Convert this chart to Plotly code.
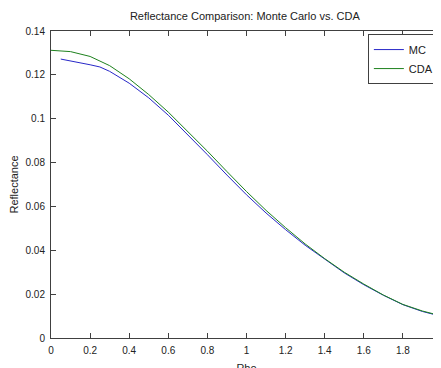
import plotly.graph_objects as go

# Data
rho_cda = [0.0, 0.1, 0.2, 0.3, 0.4, 0.5, 0.6, 0.7, 0.8, 0.9, 1.0,
           1.1, 1.2, 1.3, 1.4, 1.5, 1.6, 1.7, 1.8, 1.9, 2.0]
refl_cda = [0.1312, 0.1306, 0.1284, 0.1242, 0.1182, 0.1110, 0.1030, 0.0943,
            0.0852, 0.0759, 0.0668, 0.0582, 0.0503, 0.0429, 0.0362, 0.0300,
            0.0246, 0.0196, 0.0153, 0.0123, 0.0100]

rho_mc = [0.05, 0.1, 0.2, 0.25, 0.3, 0.4, 0.5, 0.6, 0.7, 0.8, 0.9, 1.0,
          1.1, 1.2, 1.3, 1.4, 1.5, 1.6, 1.7, 1.8, 1.9, 2.0]
refl_mc = [0.1272, 0.1264, 0.1246, 0.1236, 0.1216, 0.1162, 0.1095, 0.1016,
           0.0928, 0.0836, 0.0743, 0.0653, 0.0570, 0.0494, 0.0423, 0.0358,
           0.0297, 0.0243, 0.0195, 0.0152, 0.0121, 0.0098]

x_ticks = [0, 0.2, 0.4, 0.6, 0.8, 1, 1.2, 1.4, 1.6, 1.8, 2]
x_labels = ["0", "0.2", "0.4", "0.6", "0.8", "1", "1.2", "1.4", "1.6", "1.8", "2"]
y_ticks = [0, 0.02, 0.04, 0.06, 0.08, 0.1, 0.12, 0.14]
y_labels = ["0", "0.02", "0.04", "0.06", "0.08", "0.1", "0.12", "0.14"]

FONT = "Liberation Sans, Arial, sans-serif"

fig = go.Figure()
fig.add_trace(go.Scatter(x=rho_mc, y=refl_mc, mode="lines", name="MC",
                         line=dict(color="rgb(40,40,200)", width=1)))
fig.add_trace(go.Scatter(x=rho_cda, y=refl_cda, mode="lines", name="CDA",
                         line=dict(color="rgb(30,130,30)", width=1)))

axis_common = dict(
    showgrid=False, zeroline=False, showline=True, linecolor="#404040",
    linewidth=1, mirror="ticks", ticks="inside", ticklen=5,
    tickcolor="#404040", tickfont=dict(family=FONT, size=10, color="#222"),
    ticklabelstandoff=3,
)

# The page body adds an 8px offset, so margins are reduced accordingly
fig.update_layout(
    width=441, height=368,
    margin=dict(l=43, r=7, t=23, b=38, autoexpand=False),
    paper_bgcolor="white", plot_bgcolor="white",
    title=dict(text="Reflectance Comparison: Monte Carlo vs. CDA",
               x=0.537, xanchor="center", y=0.978, yanchor="middle",
               font=dict(family=FONT, size=11, color="#222")),
    xaxis=dict(range=[0, 2.0], tickvals=x_ticks, ticktext=x_labels,
               title=dict(text="Rho", standoff=9,
                          font=dict(family=FONT, size=11, color="#222")),
               automargin=False, **axis_common),
    yaxis=dict(range=[0, 0.14], tickvals=y_ticks, ticktext=y_labels,
               title=dict(text="Reflectance", standoff=6,
                          font=dict(family=FONT, size=11, color="#222")),
               automargin=False, **axis_common),
    legend=dict(x=0.992, y=0.99, xanchor="right", yanchor="top",
                bgcolor="white", bordercolor="#404040", borderwidth=1,
                font=dict(family=FONT, size=11, color="#222"),
                itemwidth=30, tracegroupgap=0),
    showlegend=True,
)

fig.write_html("out.html")
